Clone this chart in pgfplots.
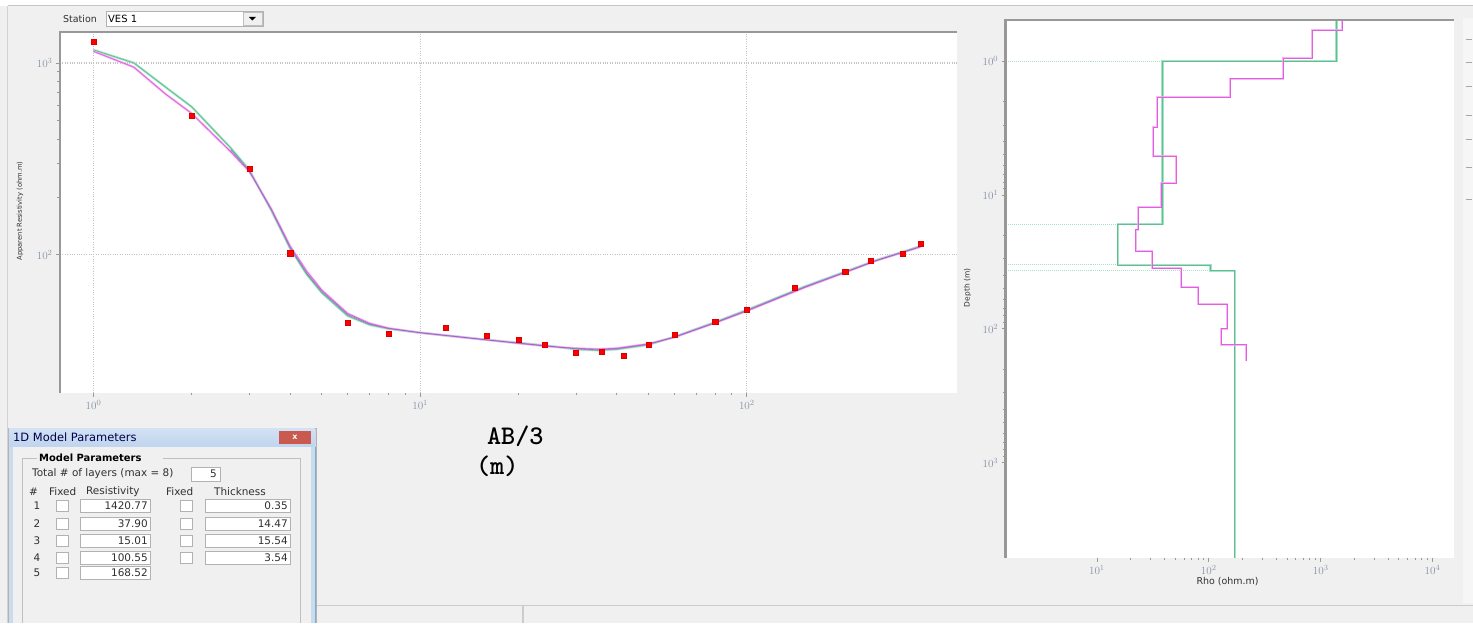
\documentclass[border=0pt]{standalone}
\usepackage{pgfplots}
\pgfplotsset{compat=1.18}
\usepackage{fontspec}
\setmainfont{DejaVu Sans}
\definecolor{bg}{HTML}{F0F0F0}
\definecolor{axgray}{HTML}{989898}
\definecolor{gridgray}{HTML}{C4C4C4}
\definecolor{fitgreen}{HTML}{5CC090}
\definecolor{fitgreenl}{HTML}{A8E2C6}
\definecolor{fitmag}{HTML}{E060E0}
\definecolor{fitmagl}{HTML}{F2A8F2}
\definecolor{fitblue}{HTML}{7870B8}
\definecolor{ticktext}{HTML}{8A96A8}
\definecolor{titleblue}{HTML}{BFD4EE}
\definecolor{framebl}{HTML}{CBDBEE}
\definecolor{edgeblue}{HTML}{5A9CC8}
\definecolor{closered}{HTML}{C85A50}
\definecolor{dlgtext}{HTML}{303030}

\begin{document}
\begin{tikzpicture}
\begin{scope}[x=1bp,y=1bp]
\useasboundingbox (0,0) rectangle (1473,623);
\fill[bg] (0,0) rectangle (1473,623);
\fill[white] (0,617) rectangle (1473,623);
\draw[gray!45, line width=1bp] (8,617) -- (1473,617);
\draw[gray!35, line width=1bp] (8,0) -- (8,617);
\node[anchor=west, font=\fontsize{9.5}{10}\selectfont, text=dlgtext, inner sep=0] at (63,604) {Station};
\draw[gray!60, fill=white] (106,597) rectangle (263,612);
\node[anchor=west, font=\fontsize{10}{11}\selectfont, text=black, inner sep=0] at (108,604.5) {VES 1};
\draw[gray!50, fill=bg] (243,598) rectangle (262,611);
\fill[black] (249,606) -- (256,606) -- (252.5,602.5) -- cycle;
\fill[bg!60!white] (1463,20) rectangle (1473,605);
\foreach \yy in {583,560,536,507,483,455,423} \draw[gray!70, line width=1bp] (1466,\yy) -- (1472,\yy);
\end{scope}

% ===== left: apparent resistivity curve =====
\begin{axis}[
  at={(60bp,230bp)}, anchor=south west,
  width=897bp, height=361bp, scale only axis,
  xmode=log, ymode=log,
  xmin=0.79, xmax=439, ymin=19.1, ymax=1450,
  axis background/.style={fill=white},
  axis line style={draw=none},
  tick pos=left, tick align=outside,
  major tick length=4bp, minor tick length=2.5bp,
  tick style={axgray, line width=0.8bp},
  grid=major,
  major grid style={dotted, gridgray, line width=1.2bp},
  tick label style={font=\fontsize{11}{12}\selectfont, text=ticktext},
  xtick={1,10,100}, ytick={100,1000},
  xticklabel style={yshift=0bp},
  clip=true,
  after end axis/.code={
    \draw[axgray, line width=2.4bp] (rel axis cs:0,0) -- (rel axis cs:0,1) -- (rel axis cs:1,1);
  },
]
\addplot[fitgreenl, line width=2.4bp, opacity=0.85] coordinates {
(1,1170) (1.33,1000) (1.66,750) (2,590) (2.63,361) (3,277) (3.5,171) (4,108) (4.5,79) (5,63.4) (6,48.1) (7,43.2) (8,41.2) (10,39.3) (15,36.5) (20,34.8) (25,33.5) (30,32.2) (35,31.8) (40,32.2) (50,34) (60,37.4) (80,44.6) (100,51.6) (150,68.3) (200,81.7) (250,94) (300,103.6) (340,111)};
\addplot[fitgreen, line width=0.8bp] coordinates {
(1,1170) (1.33,1000) (1.66,750) (2,590) (2.63,361) (3,277) (3.5,171) (4,108) (4.5,79) (5,63.4) (6,48.1) (7,43.2) (8,41.2) (10,39.3) (15,36.5) (20,34.8) (25,33.5) (30,32.2) (35,31.8) (40,32.2) (50,34) (60,37.4) (80,44.6) (100,51.6) (150,68.3) (200,81.7) (250,94) (300,103.6) (340,111)};
\addplot[fitmagl, line width=2.2bp, opacity=0.8] coordinates {
(1,1150) (1.33,950) (1.66,690) (2,545) (2.63,345) (3,272) (3.5,174) (4,111) (4.5,82) (5,65.5) (6,49.5) (7,44) (8,41.5) (10,39.3) (15,36.5) (20,34.6) (25,33.3) (30,32.6) (35,32.3) (40,32.6) (50,34.4) (60,37.2) (80,44.2) (100,51) (150,67.5) (200,81) (250,93.5) (300,103) (340,110)};
\addplot[fitmag, line width=0.8bp] coordinates {
(1,1150) (1.33,950) (1.66,690) (2,545) (2.63,345) (3,272) (3.5,174) (4,111) (4.5,82) (5,65.5) (6,49.5) (7,44) (8,41.5) (10,39.3) (15,36.5) (20,34.6) (25,33.3) (30,32.6) (35,32.3) (40,32.6) (50,34.4) (60,37.2) (80,44.2) (100,51) (150,67.5) (200,81) (250,93.5) (300,103) (340,110)};
\addplot[fitblue, line width=0.7bp, opacity=0.8] coordinates {
(2.63,353) (3,274) (3.5,172) (4,109) (4.5,80) (5,64.4) (6,48.8) (7,43.6) (8,41.3) (10,39.3) (15,36.5) (20,34.7) (25,33.4) (30,32.4) (35,32) (40,32.4) (50,34.2) (60,37.3) (80,44.4) (100,51.3) (150,67.9) (200,81.3) (250,93.7) (300,103.3) (340,110.5)};
\addplot[only marks, mark=square*, mark size=2.6bp, red, mark options={draw=red!85!black, line width=0.3bp}] coordinates {
(1,1286) (2,530) (3,280) (4,102) (6,44.3) (8,38.8) (12,41.7) (16,37.8) (20,36) (24,34) (30,30.9) (36,31.3) (42,29.8) (50,34) (60,38.3) (80,44.8) (100,51.8) (140,67.3) (200,81.5) (240,93) (300,101) (340,114)};
\end{axis}

% ===== right: layered model =====
\begin{axis}[
  at={(1006bp,65bp)}, anchor=south west,
  width=448bp, height=538bp, scale only axis,
  xmode=log, ymode=log, y dir=reverse,
  xmin=1.53, xmax=15400, ymin=0.494, ymax=5120,
  axis background/.style={fill=white},
  axis line style={draw=none},
  tick pos=left, tick align=outside,
  major tick length=4bp, minor tick length=2.5bp,
  tick style={axgray, line width=0.8bp},
  tick label style={font=\fontsize{11}{12}\selectfont, text=ticktext},
  xtick={10,100,1000,10000}, ytick={1,10,100,1000},
  clip=true,
  after end axis/.code={
    \draw[axgray, line width=2.4bp] (rel axis cs:0,0) -- (rel axis cs:0,1) -- (rel axis cs:1,1);
  },
]
\addplot[fitgreenl, densely dotted, line width=1bp] coordinates {(1.53,1.0) (38.7,1.0)};
\addplot[fitgreenl, densely dotted, line width=1bp] coordinates {(1.53,16.5) (15.4,16.5)};
\addplot[fitgreenl, densely dotted, line width=1bp] coordinates {(1.53,33.3) (15.4,33.3)};
\addplot[fitgreenl, densely dotted, line width=1bp] coordinates {(1.53,36.9) (104,36.9)};
\addplot[fitgreenl, line width=2.4bp] coordinates {
(1390,0.49) (1390,1.0) (38.7,1.0) (38.7,16.5) (15.4,16.5) (15.4,33.3) (104,33.3) (104,36.9) (171,36.9) (171,5200)};
\addplot[fitgreen, line width=0.8bp] coordinates {
(1390,0.49) (1390,1.0) (38.7,1.0) (38.7,16.5) (15.4,16.5) (15.4,33.3) (104,33.3) (104,36.9) (171,36.9) (171,5200)};
\addplot[fitmagl, line width=2.2bp, opacity=0.8] coordinates {
(1560,0.49) (1560,0.587) (841,0.587) (841,0.95) (463,0.95) (463,1.36) (155,1.36) (155,1.86) (34.5,1.86) (34.5,3.11) (31.7,3.11) (31.7,5.12) (51,5.12) (51,8.14) (37.4,8.14) (37.4,12.3) (23.3,12.3) (23.3,18.2) (22.3,18.2) (22.3,26.2) (31.1,26.2) (31.1,35.1) (56.5,35.1) (56.5,48.6) (80.2,48.6) (80.2,65.1) (145.8,65.1) (145.8,100) (128.9,100) (128.9,131.6) (215.8,131.6) (215.8,173)};
\addplot[fitmag, line width=0.8bp] coordinates {
(1560,0.49) (1560,0.587) (841,0.587) (841,0.95) (463,0.95) (463,1.36) (155,1.36) (155,1.86) (34.5,1.86) (34.5,3.11) (31.7,3.11) (31.7,5.12) (51,5.12) (51,8.14) (37.4,8.14) (37.4,12.3) (23.3,12.3) (23.3,18.2) (22.3,18.2) (22.3,26.2) (31.1,26.2) (31.1,35.1) (56.5,35.1) (56.5,48.6) (80.2,48.6) (80.2,65.1) (145.8,65.1) (145.8,100) (128.9,100) (128.9,131.6) (215.8,131.6) (215.8,173)};
\end{axis}

\begin{scope}[x=1bp,y=1bp]
\node[rotate=90, font=\fontsize{6.8}{7}\selectfont, text=dlgtext, inner sep=0] at (20,412) {Apparent Resistivity (ohm.m)};
\node[rotate=90, font=\fontsize{7.5}{8}\selectfont, text=dlgtext, inner sep=0] at (968,335) {Depth (m)};
\node[font=\fontsize{9.5}{10}\selectfont, text=dlgtext, inner sep=0] at (1228,41) {Rho (ohm.m)};
\node[anchor=base west, font=\ttfamily\bfseries\fontsize{27}{29}\selectfont, inner sep=0] at (487,178) {AB/3};
\node[anchor=base west, font=\ttfamily\bfseries\fontsize{27}{29}\selectfont, inner sep=0] at (476,148) {(m)};
% status bar
\draw[gray!40, line width=1bp] (316,17) -- (1473,17);
\draw[gray!40, line width=1.5bp] (523,0) -- (523,17);
% dialog
\fill[framebl] (8,0) rectangle (316,195);
\draw[gray!60] (8,0) -- (8,195) -- (316,195) -- (316,0);
\draw[edgeblue!80, line width=1.2bp] (315.5,0) -- (315.5,176);
\shade[top color=titleblue!70!white, bottom color=titleblue] (9,176) rectangle (315,194);
\fill[bg] (13,0) rectangle (311,176);
\node[anchor=west, font=\fontsize{11.5}{12}\selectfont, text=black!70!blue, inner sep=0] at (13,186) {1D Model Parameters};
\fill[closered] (279,179) rectangle (311,192);
\node[font=\bfseries\fontsize{8}{8}\selectfont, text=white, inner sep=0] at (295,185.5) {x};
\draw[gray!50] (37,165) -- (22,165) -- (22,0);
\draw[gray!50] (163,165) -- (300,165) -- (300,0);
\node[anchor=west, font=\bfseries\fontsize{10}{11}\selectfont, text=black, inner sep=0] at (39,165) {Model Parameters};
\begin{scope}[every node/.style={font=\fontsize{10.5}{11}\selectfont, text=dlgtext, inner sep=0}]
\node[anchor=west] at (32,149) {Total \# of layers (max = 8)};
\draw[gray!60, fill=white] (191,142) rectangle (220,156);
\node[anchor=east] at (217,149) {5};
\node[anchor=west] at (29,131) {\#};
\node[anchor=west] at (49,131) {Fixed};
\node[anchor=west] at (86,131) {Resistivity};
\node[anchor=west] at (166,131) {Fixed};
\node[anchor=west] at (214,131) {Thickness};
\foreach \i/\yy/\res/\thk in {1/117/1420.77/0.35, 2/99/37.90/14.47, 3/82/15.01/15.54, 4/65/100.55/3.54} {
  \node at (37,\yy) {\i};
  \draw[gray!60, fill=white] (56,\yy-5.5) rectangle (68,\yy+5.5);
  \draw[gray!60, fill=white] (80,\yy-6.5) rectangle (150,\yy+6.5);
  \node[anchor=east] at (148,\yy) {\res};
  \draw[gray!60, fill=white] (180,\yy-5.5) rectangle (192,\yy+5.5);
  \draw[gray!60, fill=white] (205,\yy-6.5) rectangle (290,\yy+6.5);
  \node[anchor=east] at (288,\yy) {\thk};
}
\node at (37,50) {5};
\draw[gray!60, fill=white] (56,44.5) rectangle (68,55.5);
\draw[gray!60, fill=white] (80,43.5) rectangle (150,56.5);
\node[anchor=east] at (148,50) {168.52};
\end{scope}
\end{scope}
\end{tikzpicture}
\end{document}
